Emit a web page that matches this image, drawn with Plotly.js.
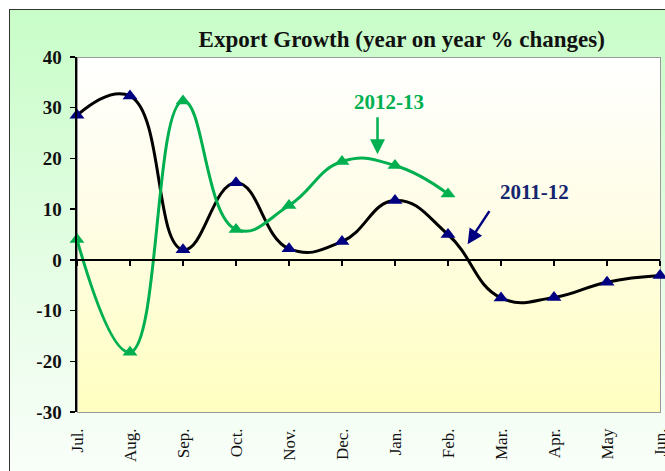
<!DOCTYPE html>
<html>
<head>
<meta charset="utf-8">
<script src="https://cdn.plot.ly/plotly-3.0.1.min.js"></script>
<style>
  html, body { margin: 0; padding: 0; background: #ffffff; width: 665px; height: 471px; overflow: hidden; }
  #frame { position: absolute; left: 9px; top: 9px; width: 720px; height: 520px;
           border: 1.5px solid #333; background: linear-gradient(to bottom, #c8fdc8 0%, #e8fde8 55%, #ffffff 100%); }
  #plotbg { position: absolute; left: 77px; top: 57px; width: 582px; height: 354px;
            border: 1px solid #999; background: linear-gradient(to bottom, #ffffff 0%, #fffde6 45%, #ffffc0 100%); }
  #chart { position: absolute; left: 0; top: 0; width: 665px; height: 471px; }
</style>
</head>
<body>
<div id="frame"></div>
<div id="plotbg"></div>
<div id="chart"></div>
<script>
const months = ["Jul.", "Aug.", "Sep.", "Oct.", "Nov.", "Dec.", "Jan.", "Feb.", "Mar.", "Apr.", "May", "Jun."];
const fy2011_12 = [28.5, 32.3, 2.0, 15.2, 2.2, 3.6, 11.7, 5.0, -7.5, -7.4, -4.4, -3.1];
const fy2012_13 = [4.0, -18.2, 31.3, 6.0, 10.7, 19.4, 18.6, 13.0];
const yTicks = [-30, -20, -10, 0, 10, 20, 30, 40];

const idx = months.map((m, i) => i);
const serif = "Liberation Serif, Times New Roman, serif";
const green = "#00b050";
const navy = "#000080";

const traces = [
  {
    x: idx, y: fy2011_12, name: "2011-12", type: "scatter", mode: "lines+markers",
    line: { shape: "spline", smoothing: 1.3, color: "#000000", width: 3 },
    marker: { symbol: "triangle-up", size: 13, color: navy },
    cliponaxis: false
  },
  {
    x: idx.slice(0, fy2012_13.length), y: fy2012_13, name: "2012-13", type: "scatter", mode: "lines+markers",
    line: { shape: "spline", smoothing: 1.3, color: green, width: 3 },
    marker: { symbol: "triangle-up", size: 13, color: green },
    cliponaxis: false
  },
  { x: [], y: [], xaxis: "x2", yaxis: "y", type: "scatter", showlegend: false, hoverinfo: "skip" }
];

const layout = {
  width: 665, height: 471,
  margin: { l: 77, r: 5, t: 57, b: 59 },
  paper_bgcolor: "rgba(0,0,0,0)",
  plot_bgcolor: "rgba(0,0,0,0)",
  showlegend: false,
  title: {
    text: "Export Growth (year on year % changes)",
    font: { family: serif, size: 23, color: "#111", weight: "bold" },
    x: 0.557, xref: "paper", xanchor: "center",
    y: 0.917, yref: "container", yanchor: "middle"
  },
  xaxis: {
    range: [0, 11], tickvals: idx, ticktext: months, tickangle: -90,
    showgrid: false, zeroline: false, showline: false, ticks: "",
    ticklabelstandoff: 12, ticklabeloverflow: "allow",
    tickfont: { family: serif, size: 17, color: "#111" }
  },
  xaxis2: {
    overlaying: "x", anchor: "free", position: 30 / 70, side: "bottom",
    range: [0, 11], tickvals: idx, showticklabels: false,
    ticks: "outside", ticklen: 5, tickwidth: 1.5, tickcolor: "#000",
    showline: true, linecolor: "#000", linewidth: 2.5,
    showgrid: false, zeroline: false
  },
  yaxis: {
    range: [-30, 40], tickvals: yTicks, ticktext: yTicks.map(String),
    showgrid: false, zeroline: false,
    showline: true, linecolor: "#000", linewidth: 2.5,
    ticks: "outside", ticklen: 5, tickwidth: 1.5, tickcolor: "#000",
    ticklabelstandoff: 4,
    tickfont: { family: serif, size: 19, color: "#111", weight: "bold" }
  },
  annotations: [
    { x: 5.88, y: 31.2, xref: "x", yref: "y", text: "2012-13", showarrow: false,
      font: { family: serif, size: 21, color: green, weight: "bold" } },
    { x: 5.67, y: 20.8, xref: "x", yref: "y", ax: 5.67, ay: 28.4, axref: "x", ayref: "y",
      text: "", showarrow: true, arrowhead: 2, arrowsize: 1.2, arrowwidth: 2.5, arrowcolor: green },
    { x: 8.64, y: 13.3, xref: "x", yref: "y", text: "2011-12", showarrow: false,
      font: { family: serif, size: 21, color: "#14246e", weight: "bold" } },
    { x: 7.37, y: 3.1, xref: "x", yref: "y", ax: 7.8, ay: 9.9, axref: "x", ayref: "y",
      text: "", showarrow: true, arrowhead: 2, arrowsize: 1.2, arrowwidth: 2.5, arrowcolor: navy }
  ]
};

Plotly.newPlot("chart", traces, layout, { displayModeBar: false, staticPlot: true });
</script>
</body>
</html>
